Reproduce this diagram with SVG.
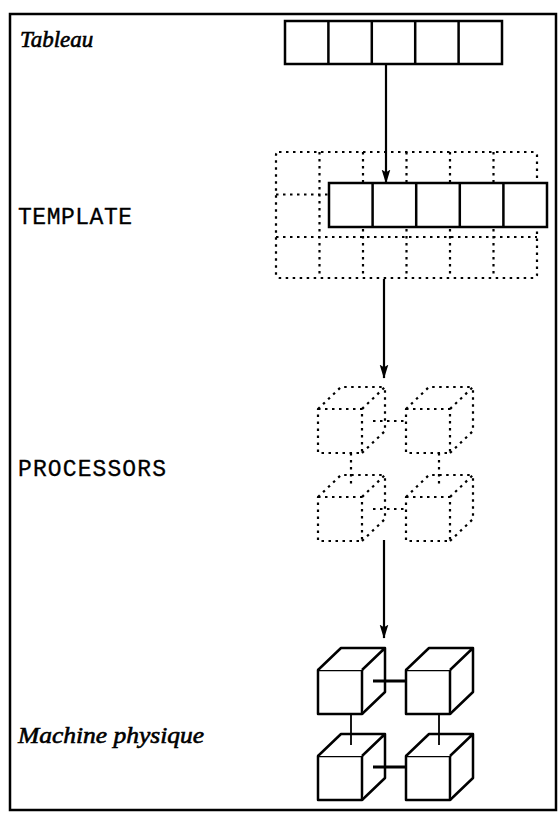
<svg xmlns="http://www.w3.org/2000/svg" width="558" height="813" viewBox="0 0 558 813">
<style>
.frame{fill:none;stroke:#000;stroke-width:2.5}
.solid{fill:#fff;stroke:#000;stroke-width:2.5;stroke-linejoin:miter}
.dot{fill:none;stroke:#000;stroke-width:2.2;stroke-dasharray:2.5 4.5}
.cubes{fill:#fff;stroke:#000;stroke-width:2.5;stroke-linejoin:round}
.cubed{fill:none;stroke:#000;stroke-width:2.2;stroke-dasharray:2.5 4.5;stroke-linejoin:round}
.arrow{fill:none;stroke:#000;stroke-width:2.2}
.serif{font-family:"Liberation Serif","Times New Roman",serif;font-style:italic;font-size:23px;fill:#000;stroke:#000;stroke-width:0.6}
.mono{font-family:"Liberation Mono","Courier New",monospace;font-size:23px;fill:#000;stroke:#000;stroke-width:0.3}
</style>
<defs>
<marker id="ah" markerUnits="userSpaceOnUse" markerWidth="14" markerHeight="22" refX="20" refY="6.5" orient="auto" viewBox="0 0 21 13">
<path d="M0,0 L21,6.5 L0,13 L4,6.5 Z" fill="#000"/>
</marker>
<g id="cube">
<rect x="0" y="0" width="44" height="44"/>
<path d="M0,0 L23,-22 L67,-22 L44,0 M44,44 L67,22 L67,-22"/>
</g>
</defs>
<rect class="frame" x="10" y="14" width="546" height="796"/>
<text class="serif" x="20" y="47">Tableau</text>
<text class="mono" x="18" y="224" textLength="114">TEMPLATE</text>
<text class="mono" x="18" y="476" textLength="148">PROCESSORS</text>
<text class="serif" x="18" y="743" font-size="24" textLength="186" lengthAdjust="spacingAndGlyphs">Machine physique</text>
<g id="tableau">
<rect class="solid" x="285" y="21" width="217" height="43"/>
<path class="solid" d="M328.4,21 V64 M371.8,21 V64 M415.2,21 V64 M458.6,21 V64"/>
</g>
<g id="template">
<rect class="dot" x="276" y="152" width="261" height="126" rx="3"/>
<path class="dot" d="M276,194.5 H537 M276,237 H537 M319.5,152 V278 M363,152 V278 M406.5,152 V278 M450,152 V278 M493.5,152 V278"/>
<rect class="solid" x="329" y="183" width="218" height="44" stroke-width="2.2"/>
<path class="solid" stroke-width="2.2" d="M372.6,183 V227 M416.2,183 V227 M459.8,183 V227 M503.4,183 V227"/>
</g>
<g id="processors">
<path class="cubed" d="M373,421 H407 M351,453 V486 M439,453 V486 M373,509 H407"/>
<use href="#cube" class="cubed" transform="translate(318,409)"/>
<use href="#cube" class="cubed" transform="translate(406,409)"/>
<use href="#cube" class="cubed" transform="translate(318,497)"/>
<use href="#cube" class="cubed" transform="translate(406,497)"/>
</g>
<g id="machine">
<use href="#cube" class="cubes" transform="translate(318,670)"/>
<use href="#cube" class="cubes" transform="translate(406,670)"/>
<use href="#cube" class="cubes" transform="translate(318,756)"/>
<use href="#cube" class="cubes" transform="translate(406,756)"/>
<path fill="none" stroke="#000" stroke-width="2.8" d="M373,681 H406 M373,767 H406"/>
<path fill="none" stroke="#000" stroke-width="1.8" d="M351,714 V745 M439,714 V745"/>
</g>
<g id="connectors">
<path class="arrow" d="M386,64 V183" marker-end="url(#ah)"/>
<path class="arrow" d="M384,279 V378" marker-end="url(#ah)"/>
<path class="arrow" d="M384,540 V638" marker-end="url(#ah)"/>
</g>
</svg>
